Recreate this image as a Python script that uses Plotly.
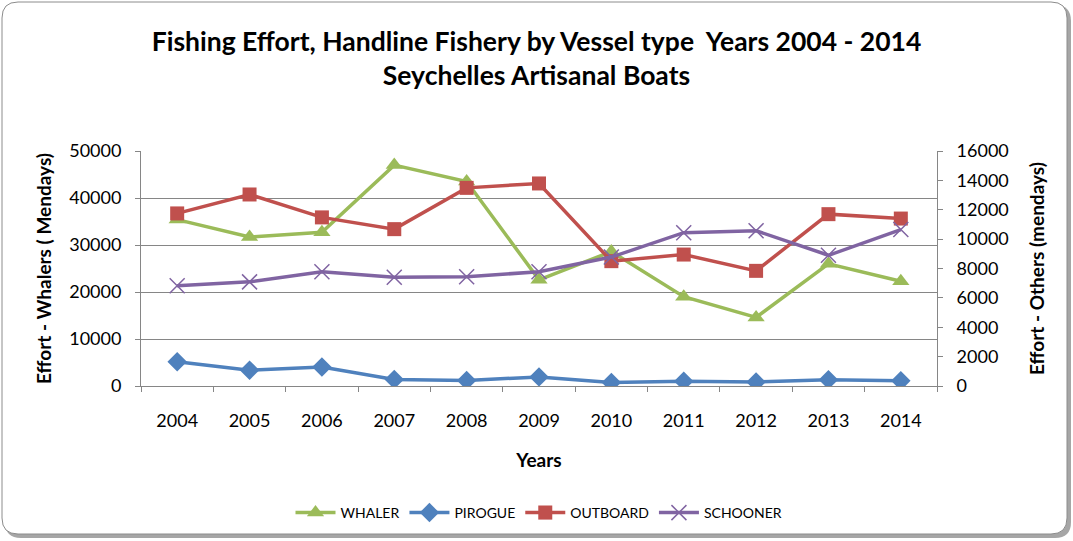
import plotly.graph_objects as go

years = ["2004", "2005", "2006", "2007", "2008", "2009", "2010", "2011", "2012", "2013", "2014"]
whaler = [35400, 31700, 32700, 47000, 43500, 22600, 28600, 19000, 14600, 26000, 22300]
pirogue = [1650, 1080, 1300, 450, 380, 620, 240, 330, 270, 430, 350]
outboard = [11750, 13040, 11480, 10680, 13490, 13790, 8500, 8950, 7840, 11700, 11400]
schooner = [6820, 7090, 7780, 7400, 7440, 7780, 8780, 10440, 10570, 8900, 10650]

left_ticks = [0, 10000, 20000, 30000, 40000, 50000]
right_ticks = [0, 2000, 4000, 6000, 8000, 10000, 12000, 14000, 16000]

C_WHALER = "#9BBB59"
C_PIROGUE = "#4F81BD"
C_OUTBOARD = "#C0504D"
C_SCHOONER = "#8064A2"

FONT = "Lato"
W, H = 1073, 541
L, R, T, B = 141, 136, 151, 155
PW, PH = W - L - R, H - T - B

fig = go.Figure()
fig.add_trace(go.Scatter(x=years, y=whaler, name="WHALER", mode="lines+markers",
                         line=dict(color=C_WHALER, width=3.5),
                         marker=dict(symbol="triangle-up", size=15, color=C_WHALER)))
fig.add_trace(go.Scatter(x=years, y=pirogue, name="PIROGUE", mode="lines+markers", yaxis="y2",
                         line=dict(color=C_PIROGUE, width=3.5),
                         marker=dict(symbol="diamond", size=15, color=C_PIROGUE)))
fig.add_trace(go.Scatter(x=years, y=outboard, name="OUTBOARD", mode="lines+markers", yaxis="y2",
                         line=dict(color=C_OUTBOARD, width=3.5),
                         marker=dict(symbol="square", size=14, color=C_OUTBOARD)))
fig.add_trace(go.Scatter(x=years, y=schooner, name="SCHOONER", mode="lines+markers", yaxis="y2",
                         line=dict(color=C_SCHOONER, width=3.5),
                         marker=dict(symbol="x-thin", size=15, color=C_SCHOONER,
                                     line=dict(color=C_SCHOONER, width=1.5))))


def px(x):
    return (x - L) / PW


def py(y):
    return (H - B - y) / PH


def rrect(x0, y0, x1, y1, r):
    pts = [
        f"M {px(x0 + r)},{py(y0)}",
        f"L {px(x1 - r)},{py(y0)}",
        f"Q {px(x1)},{py(y0)} {px(x1)},{py(y0 + r)}",
        f"L {px(x1)},{py(y1 - r)}",
        f"Q {px(x1)},{py(y1)} {px(x1 - r)},{py(y1)}",
        f"L {px(x0 + r)},{py(y1)}",
        f"Q {px(x0)},{py(y1)} {px(x0)},{py(y1 - r)}",
        f"L {px(x0)},{py(y0 + r)}",
        f"Q {px(x0)},{py(y0)} {px(x0 + r)},{py(y0)}",
        "Z",
    ]
    return " ".join(pts)


shapes = [
    dict(type="path", xref="paper", yref="paper", layer="below",
         path=rrect(5, 5, 1071, 538, 16), fillcolor="#A6A6A6", line=dict(width=0)),
    dict(type="path", xref="paper", yref="paper", layer="below",
         path=rrect(2, 2, 1067, 534, 16), fillcolor="white", line=dict(color="#8C8C8C", width=1)),
]

fig.update_layout(
    width=W, height=H,
    margin=dict(l=L, r=R, t=T, b=B, autoexpand=False),
    paper_bgcolor="white", plot_bgcolor="rgba(0,0,0,0)",
    font=dict(family=FONT, color="black"),
    shapes=shapes,
    showlegend=True,
    title=dict(text="<b>Fishing Effort, Handline Fishery by Vessel type  Years 2004 - 2014<br>Seychelles Artisanal Boats</b>",
               x=0.5, xanchor="center", y=1 - 51 / H, yanchor="middle", yref="container",
               font=dict(family=FONT, size=26.5, color="black")),
    xaxis=dict(type="category", range=[-0.5, 10.5], showgrid=False, showline=True,
               linecolor="#868686", linewidth=1, ticks="outside", tickson="boundaries",
               ticklen=5, tickcolor="#868686", tickfont=dict(size=18, family=FONT),
               ticklabelstandoff=18,
               title=dict(text="<b>Years</b>", font=dict(size=19, family=FONT), standoff=24)),
    yaxis=dict(range=[0, 50000], tickvals=left_ticks, ticktext=[str(v) for v in left_ticks],
               showgrid=True, gridcolor="#868686", gridwidth=1, zeroline=False,
               showline=True, linecolor="#868686", linewidth=1, ticks="outside", ticklen=5,
               tickcolor="#868686", tickfont=dict(size=18, family=FONT), ticklabelstandoff=10,
               title=dict(text="<b>Effort - Whalers ( Mendays)</b>", font=dict(size=19, family=FONT), standoff=12)),
    yaxis2=dict(range=[0, 16000], tickvals=right_ticks, ticktext=[str(v) for v in right_ticks],
                overlaying="y", side="right", showgrid=False, zeroline=False,
                showline=True, linecolor="#868686", linewidth=1, ticks="outside", ticklen=5,
                tickcolor="#868686", tickfont=dict(size=18, family=FONT), ticklabelstandoff=10,
                title=dict(text="<b>Effort - Others (mendays)</b>", font=dict(size=19, family=FONT), standoff=22)),
    legend=dict(orientation="h", x=0.5, xanchor="center", y=1 - 513 / H, yanchor="middle",
                yref="container", font=dict(size=14, family=FONT), bgcolor="rgba(0,0,0,0)",
                itemwidth=40, tracegroupgap=0),
)

fig.write_html("out.html", config={"displayModeBar": False},
               post_script="document.body.style.margin='0';")
